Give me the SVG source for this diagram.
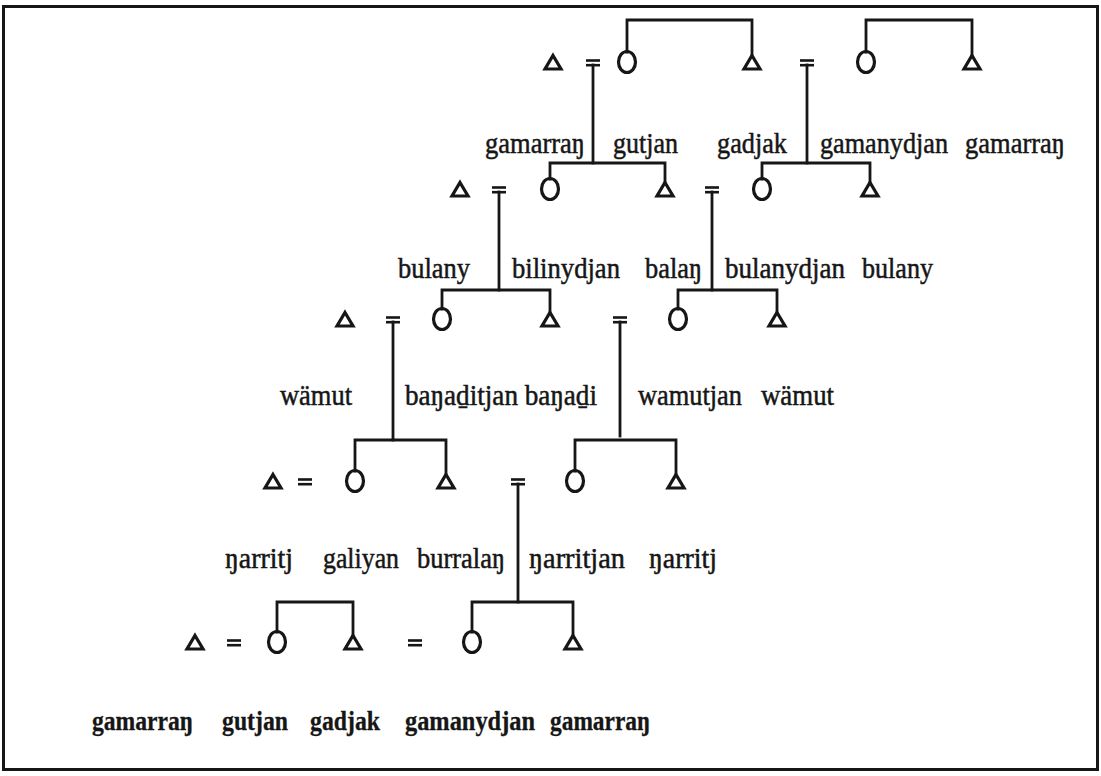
<svg xmlns="http://www.w3.org/2000/svg" xmlns:xlink="http://www.w3.org/1999/xlink" width="1101" height="776" viewBox="0 0 1101 776">
<style>
.frame{fill:none;stroke:#161616;stroke-width:3}
.ln{fill:none;stroke:#161616;stroke-width:2.8;stroke-linecap:square}
.sym{fill:none;stroke:#161616;stroke-width:3.2;stroke-linejoin:miter}
.eq{stroke:#161616;stroke-width:2.6}
.tx{font-family:"Liberation Serif","DejaVu Serif",serif;font-size:29px;fill:#161616;stroke:#161616;stroke-width:0.5}
.bd{font-weight:bold;font-size:28px;stroke-width:0.3}
</style>
<defs>
<path id="tri" class="sym" d="M0,-7.5 L8,6 L-8,6 Z"/>
<ellipse id="cir" class="sym" cx="0" cy="-1" rx="8.5" ry="10.5"/>
<g id="eq"><line class="eq" x1="-7" y1="-2.5" x2="7" y2="-2.5"/><line class="eq" x1="-7" y1="2.2" x2="7" y2="2.2"/></g>
</defs>
<rect class="frame" x="3.5" y="6.5" width="1094" height="763"/>

<g id="connectors">
<path class="ln" d="M627,52 V20 H752 V56"/>
<path class="ln" d="M866,52 V20 H972 V56"/>
<path class="ln" d="M593,65 V163"/>
<path class="ln" d="M550,179 V163 H665 V183"/>
<path class="ln" d="M807,65 V163"/>
<path class="ln" d="M762,179 V163 H870 V183"/>
<path class="ln" d="M499,192 V290"/>
<path class="ln" d="M442,309 V290 H550 V313"/>
<path class="ln" d="M712,192 V290"/>
<path class="ln" d="M678,309 V290 H777 V313"/>
<path class="ln" d="M393,322 V440"/>
<path class="ln" d="M355,471 V440 H446 V475"/>
<path class="ln" d="M620,322 V436"/>
<path class="ln" d="M575,471 V440 H676 V475"/>
<path class="ln" d="M518,484 V602"/>
<path class="ln" d="M472,632 V602 H573 V636"/>
<path class="ln" d="M277,632 V602 H353 V636"/>
</g>

<g id="row1">
<g id="r1-m1"><use xlink:href="#tri" x="553" y="63"/></g>
<g id="r1-eq1"><use xlink:href="#eq" x="593" y="63"/></g>
<g id="r1-f1"><use xlink:href="#cir" x="627" y="63"/></g>
<g id="r1-m2"><use xlink:href="#tri" x="752" y="63"/></g>
<g id="r1-eq2"><use xlink:href="#eq" x="807" y="63"/></g>
<g id="r1-f2"><use xlink:href="#cir" x="866" y="63"/></g>
<g id="r1-m3"><use xlink:href="#tri" x="972" y="63"/></g>
</g>
<g id="row2">
<g id="r2-m1"><use xlink:href="#tri" x="460" y="190"/></g>
<g id="r2-eq1"><use xlink:href="#eq" x="499" y="190"/></g>
<g id="r2-f1"><use xlink:href="#cir" x="550" y="190"/></g>
<g id="r2-m2"><use xlink:href="#tri" x="665" y="190"/></g>
<g id="r2-eq2"><use xlink:href="#eq" x="712" y="190"/></g>
<g id="r2-f2"><use xlink:href="#cir" x="762" y="190"/></g>
<g id="r2-m3"><use xlink:href="#tri" x="870" y="190"/></g>
</g>
<g id="row3">
<g id="r3-m1"><use xlink:href="#tri" x="345" y="320"/></g>
<g id="r3-eq1"><use xlink:href="#eq" x="393" y="320"/></g>
<g id="r3-f1"><use xlink:href="#cir" x="442" y="320"/></g>
<g id="r3-m2"><use xlink:href="#tri" x="550" y="320"/></g>
<g id="r3-eq2"><use xlink:href="#eq" x="620" y="320"/></g>
<g id="r3-f2"><use xlink:href="#cir" x="678" y="320"/></g>
<g id="r3-m3"><use xlink:href="#tri" x="777" y="320"/></g>
</g>
<g id="row4">
<g id="r4-m1"><use xlink:href="#tri" x="273" y="482"/></g>
<g id="r4-eq1"><use xlink:href="#eq" x="305" y="482"/></g>
<g id="r4-f1"><use xlink:href="#cir" x="355" y="482"/></g>
<g id="r4-m2"><use xlink:href="#tri" x="446" y="482"/></g>
<g id="r4-eq2"><use xlink:href="#eq" x="518" y="482"/></g>
<g id="r4-f2"><use xlink:href="#cir" x="575" y="482"/></g>
<g id="r4-m3"><use xlink:href="#tri" x="676" y="482"/></g>
</g>
<g id="row5">
<g id="r5-m1"><use xlink:href="#tri" x="195" y="643"/></g>
<g id="r5-eq1"><use xlink:href="#eq" x="234" y="643"/></g>
<g id="r5-f1"><use xlink:href="#cir" x="277" y="643"/></g>
<g id="r5-m2"><use xlink:href="#tri" x="353" y="643"/></g>
<g id="r5-eq2"><use xlink:href="#eq" x="415" y="643"/></g>
<g id="r5-f2"><use xlink:href="#cir" x="472" y="643"/></g>
<g id="r5-m3"><use xlink:href="#tri" x="573" y="643"/></g>
</g>

<g id="labels" class="tx">
<text x="485" y="153" textLength="100" lengthAdjust="spacingAndGlyphs">gamarraŋ</text>
<text x="613" y="153" textLength="65" lengthAdjust="spacingAndGlyphs">gutjan</text>
<text x="717" y="153" textLength="70" lengthAdjust="spacingAndGlyphs">gadjak</text>
<text x="820" y="153" textLength="128" lengthAdjust="spacingAndGlyphs">gamanydjan</text>
<text x="965" y="153" textLength="100" lengthAdjust="spacingAndGlyphs">gamarraŋ</text>

<text x="398" y="278" textLength="72" lengthAdjust="spacingAndGlyphs">bulany</text>
<text x="512" y="278" textLength="108" lengthAdjust="spacingAndGlyphs">bilinydjan</text>
<text x="645" y="278" textLength="57" lengthAdjust="spacingAndGlyphs">balaŋ</text>
<text x="725" y="278" textLength="120" lengthAdjust="spacingAndGlyphs">bulanydjan</text>
<text x="862" y="278" textLength="71" lengthAdjust="spacingAndGlyphs">bulany</text>

<text x="280" y="405" textLength="72" lengthAdjust="spacingAndGlyphs">wämut</text>
<text x="405" y="405" textLength="192" lengthAdjust="spacingAndGlyphs">baŋaḏitjan baŋaḏi</text>
<text x="638" y="405" textLength="104" lengthAdjust="spacingAndGlyphs">wamutjan</text>
<text x="761" y="405" textLength="73" lengthAdjust="spacingAndGlyphs">wämut</text>

<text x="225" y="568" textLength="68" lengthAdjust="spacingAndGlyphs">ŋarritj</text>
<text x="323" y="568" textLength="76" lengthAdjust="spacingAndGlyphs">galiyan</text>
<text x="417" y="568" textLength="88" lengthAdjust="spacingAndGlyphs">burralaŋ</text>
<text x="529" y="568" textLength="96" lengthAdjust="spacingAndGlyphs">ŋarritjan</text>
<text x="649" y="568" textLength="68" lengthAdjust="spacingAndGlyphs">ŋarritj</text>

<text class="bd" x="92" y="730" textLength="101" lengthAdjust="spacingAndGlyphs">gamarraŋ</text>
<text class="bd" x="222" y="730" textLength="66" lengthAdjust="spacingAndGlyphs">gutjan</text>
<text class="bd" x="310" y="730" textLength="70" lengthAdjust="spacingAndGlyphs">gadjak</text>
<text class="bd" x="405" y="730" textLength="130" lengthAdjust="spacingAndGlyphs">gamanydjan</text>
<text class="bd" x="550" y="730" textLength="100" lengthAdjust="spacingAndGlyphs">gamarraŋ</text>
</g>
</svg>
